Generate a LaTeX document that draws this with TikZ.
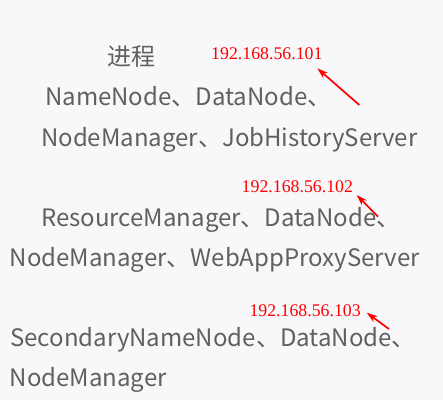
\documentclass[tikz,border=0pt]{standalone}
\usepackage{fontspec}
\newfontfamily\cjk{Noto Sans CJK SC}
\setmainfont{Liberation Serif}
\usetikzlibrary{arrows.meta}
\definecolor{bg}{RGB}{248,247,250}
\definecolor{txt}{RGB}{96,96,98}
\definecolor{ipred}{RGB}{255,0,0}
\tikzset{
  proc/.style={anchor=base west, inner sep=0pt, text=txt, font=\cjk\fontsize{24}{28}\selectfont},
  ip/.style={anchor=base west, inner sep=0pt, text=ipred, font=\fontsize{17.8}{20}\selectfont},
  pointer/.style={draw=ipred, line width=1.7pt, -{Stealth[length=11pt,width=7pt]}}
}
\begin{document}
\begin{tikzpicture}[x=1pt,y=-1pt]
\fill[bg] (0,0) rectangle (443,400);
\useasboundingbox (0,0) rectangle (443,400);
% group 1
\node[proc] (title) at (107,65) {进程};
\node[proc] (l1) at (45,105) {NameNode、DataNode、};
\node[proc] (l2) at (41,146.7) {NodeManager、JobHistoryServer};
\node[ip] (ip1) at (211,59.3) {192.168.56.101};
\coordinate (t1) at (359.3,105);
\coordinate (h1) at (317.3,68.3);
\draw[pointer] (t1) -- (h1);
% group 2
\node[proc] (l3) at (41,226.7) {ResourceManager、DataNode、};
\node[proc] (l4) at (9.5,266.7) {NodeManager、WebAppProxyServer};
\node[ip] (ip2) at (241.5,192.3) {192.168.56.102};
\coordinate (t2) at (378,216.7);
\coordinate (h2) at (356.7,195);
\draw[pointer] (t2) -- (h2);
% group 3
\node[proc] (l5) at (10,346.7) {SecondaryNameNode、DataNode、};
\node[proc] (l6) at (9.5,386.7) {NodeManager};
\node[ip] (ip3) at (249.3,316.3) {192.168.56.103};
\coordinate (t3) at (389,329);
\coordinate (h3) at (366.7,312.7);
\draw[pointer] (t3) -- (h3);
\end{tikzpicture}
\end{document}
